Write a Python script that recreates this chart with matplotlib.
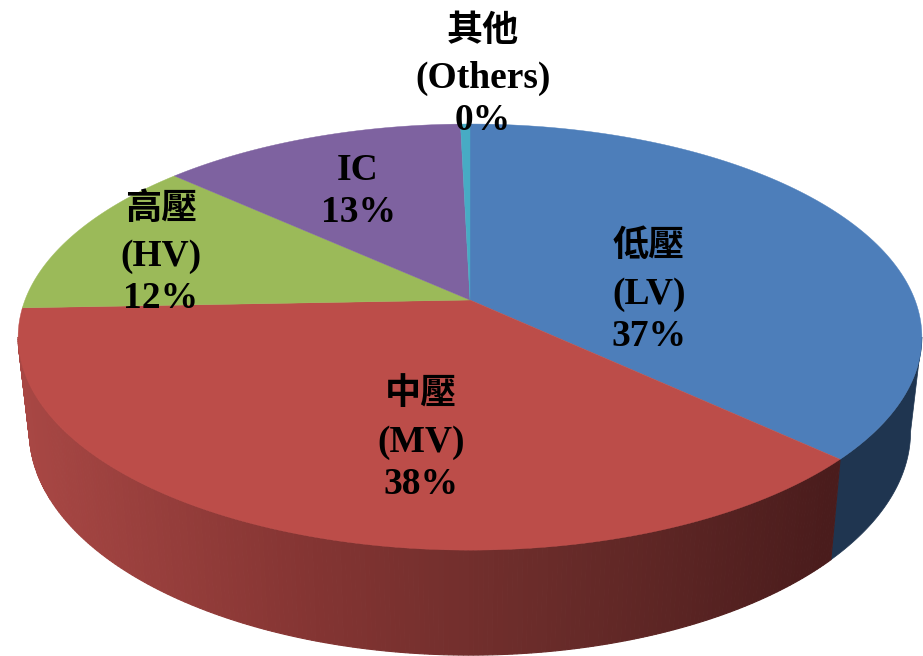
import matplotlib
matplotlib.use('Agg')
import matplotlib.pyplot as plt
import numpy as np

# data
names = ['低壓', '中壓', '高壓', 'IC', '其他']
names_en = ['(LV)', '(MV)', '(HV)', '', '(Others)']
shares = [36.9, 37.5, 12.3, 12.9, 0.4]
pct_labels = ['37%', '38%', '12%', '13%', '0%']
top_colors = ['#4D7EBA', '#BC4D49', '#9BBA59', '#7E62A0', '#47ABC4']

# perspective of the pie, in pixels
cx, cy = 470, 300
A, B, k = 445, 206.6, 0.174
depth_dy, mx, my = 92.5, 0.975, 1.05


def project(theta):
    X, Y = np.sin(theta), np.cos(theta)
    d = 1 + k * Y
    return cx + A * X / d, cy - B * Y / d


def project_low(theta):
    x, y = project(theta)
    return cx + (x - cx) * mx, cy + (y - cy) * my + depth_dy


def side_color(x):
    # side wall gets darker to the right
    xs = [20, 300, 560, 830]
    r = np.interp(x, xs, [0xA8, 0x85, 0x68, 0x4A])
    g = np.interp(x, xs, [0x47, 0x35, 0x2B, 0x1C])
    b = np.interp(x, xs, [0x44, 0x33, 0x29, 0x1C])
    return (r / 255, g / 255, b / 255)


fig = plt.figure(figsize=(9.23, 6.56), dpi=100)
ax = fig.add_axes([0, 0, 1, 1])
ax.set_xlim(0, 923)
ax.set_ylim(656, 0)
ax.axis('off')

edges = np.concatenate([[0], np.cumsum(shares)]) / np.sum(shares) * 2 * np.pi
# where the rim is widest, the wall starts/ends there
widest = np.arccos(-k)

# side walls: LV then MV
t_lv = np.linspace(widest, edges[1], 60)
xa, ya = project(t_lv)
xb, yb = project_low(t_lv)
ax.fill(np.r_[xa, xb[::-1]], np.r_[ya, yb[::-1]], color='#1F3550', lw=0.5, zorder=1)

t_mv = np.linspace(edges[1], 2 * np.pi - widest, 240)
for t0, t1 in zip(t_mv[:-1], t_mv[1:]):
    pair = np.array([t0, t1])
    xa, ya = project(pair)
    xb, yb = project_low(pair)
    c = side_color(xa.mean())
    ax.fill([xa[0], xa[1], xb[1], xb[0]], [ya[0], ya[1], yb[1], yb[0]],
            color=c, lw=0.8, zorder=1)

# top face
for i in range(len(shares)):
    t = np.linspace(edges[i], edges[i + 1], 120)
    x, y = project(t)
    ax.fill(np.r_[cx, x], np.r_[cy, y], color=top_colors[i], lw=0.3, zorder=2)

# labels, one text per line
serif = ['Liberation Serif', 'Noto Sans CJK TC']
label_at = [(649, [247, 294, 336]), (421, [395, 442, 484]), (161, [210, 257, 298]),
            (358, [None, 170, 213]), (483, [32, 78, 120])]
for i, (lx, ys) in enumerate(label_at):
    if names[i] == 'IC':
        lines = [None, names[i], pct_labels[i]]
    else:
        lines = [names[i], names_en[i], pct_labels[i]]
    for s, ly in zip(lines, ys):
        if s is None:
            continue
        cjk = s in names and s != 'IC'
        ax.text(lx, ly, s, ha='center', va='center', color='black', zorder=5,
                fontsize=26 if cjk else 27, fontweight='bold', family=serif)

fig.savefig('out.png', dpi=100)
